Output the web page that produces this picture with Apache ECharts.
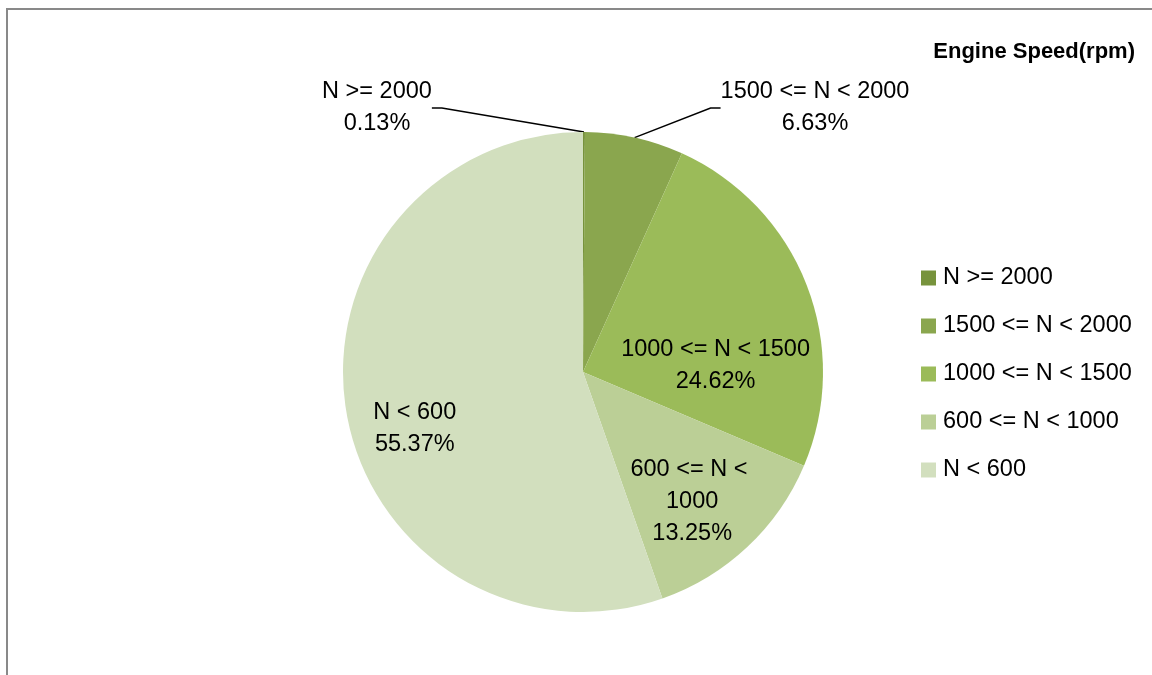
<!DOCTYPE html>
<html>
<head>
<meta charset="utf-8">
<script src="https://cdn.jsdelivr.net/npm/echarts@6/dist/echarts.min.js"></script>
<style>
html,body{margin:0;padding:0;background:#fff;}
#main{width:1152px;height:675px;}
</style>
</head>
<body>
<div id="main"></div>
<script>
var categories = ['N >= 2000', '1500 <= N < 2000', '1000 <= N < 1500', '600 <= N < 1000', 'N < 600'];
var percentValues = [0.13, 6.63, 24.62, 13.25, 55.37];
var sliceColors = ['#77933C', '#8AA64E', '#9BBB59', '#BBCF96', '#D2DFBE'];
var titleText = 'Engine Speed(rpm)';

var FONT = '"Liberation Sans", Arial, sans-serif';
// label placement tweaks (style only)
var labelSide = ['outside', 'outside', 'inside', 'inside', 'inside'];
var labelAbs = [[377, 108], [815, 108], null, null, null];
var labelShift = [null, null, [18, 38], [25, 40], [-47, 36]];

var chart = echarts.init(document.getElementById('main'));

var data = categories.map(function (c, i) {
  var item = {
    name: c,
    value: percentValues[i],
    itemStyle: { color: sliceColors[i] },
    label: { position: labelSide[i] }
  };
  if (i === 3) {
    item.label.width = 130;
    item.label.overflow = 'break';
  }
  return item;
});

chart.setOption({
  animation: false,
  backgroundColor: '#ffffff',
  title: {
    text: titleText,
    right: 12,
    top: 36,
    textStyle: { fontFamily: FONT, fontSize: 22, fontWeight: 'bold', color: '#000' }
  },
  legend: {
    orient: 'vertical',
    left: 921,
    top: 266,
    padding: 0,
    itemWidth: 15,
    itemHeight: 15,
    itemGap: 24,
    icon: 'rect',
    textStyle: { fontFamily: FONT, fontSize: 23.5, color: '#000', lineHeight: 24, padding: [0, 0, 0, 2] },
    data: categories
  },
  graphic: [{
    type: 'rect',
    shape: { x: 7, y: 9, width: 1200, height: 700 },
    style: { fill: 'none', stroke: '#898989', lineWidth: 2 },
    silent: true
  }],
  series: [{
    type: 'pie',
    center: [583, 372],
    radius: 240,
    startAngle: 90,
    clockwise: true,
    avoidLabelOverlap: false,
    itemStyle: { borderWidth: 0 },
    label: {
      show: true,
      fontFamily: FONT,
      fontSize: 23.5,
      lineHeight: 32,
      color: '#000',
      align: 'center',
      formatter: function (p) { return p.name + '\n' + p.value.toFixed(2) + '%'; }
    },
    labelLine: {
      show: true,
      length: 20,
      length2: 10,
      lineStyle: { color: '#000', width: 1.5 }
    },
    labelLayout: function (p) {
      var i = p.dataIndex;
      if (labelAbs[i]) {
        return { x: labelAbs[i][0], y: labelAbs[i][1], align: 'center', verticalAlign: 'middle' };
      }
      if (labelShift[i]) {
        return { dx: labelShift[i][0], dy: labelShift[i][1] };
      }
      return {};
    },
    data: data
  }]
});
</script>
</body>
</html>
